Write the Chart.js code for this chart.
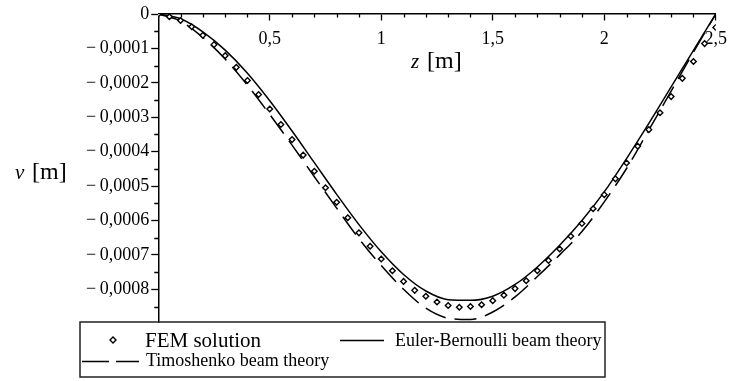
<!DOCTYPE html>
<html>
<head>
<meta charset="utf-8">
<script src="https://cdn.jsdelivr.net/npm/chart.js@4.4.1/dist/chart.umd.min.js"></script>
<style>
  html, body { margin: 0; padding: 0; background: #fff; }
</style>
</head>
<body>
<canvas id="chartBeam" width="735" height="381"></canvas>
<script>
// FEM nodes (every 0.05 m)
const zFem = [0, 0.05, 0.1, 0.15, 0.2, 0.25, 0.3, 0.35, 0.4, 0.45, 0.5, 0.55, 0.6, 0.65, 0.7, 0.75, 0.8, 0.85, 0.9, 0.95,
  1, 1.05, 1.1, 1.15, 1.2, 1.25, 1.3, 1.35, 1.4, 1.45, 1.5, 1.55, 1.6, 1.65, 1.7, 1.75, 1.8, 1.85, 1.9, 1.95,
  2, 2.05, 2.1, 2.15, 2.2, 2.25, 2.3, 2.35, 2.4, 2.45, 2.5];
const vFem = [0, -8.1e-6, -1.9e-5, -3.7e-5, -6.2e-5, -8.9e-5, -1.21e-4, -1.55e-4, -1.93e-4, -2.34e-4,
  -2.76e-4, -3.21e-4, -3.65e-4, -4.10e-4, -4.57e-4, -5.05e-4, -5.47e-4, -5.92e-4, -6.36e-4, -6.75e-4,
  -7.12e-4, -7.46e-4, -7.77e-4, -8.03e-4, -8.20e-4, -8.37e-4, -8.47e-4, -8.52e-4, -8.50e-4, -8.45e-4,
  -8.33e-4, -8.17e-4, -7.98e-4, -7.75e-4, -7.46e-4, -7.16e-4, -6.83e-4, -6.46e-4, -6.09e-4, -5.66e-4,
  -5.25e-4, -4.79e-4, -4.33e-4, -3.84e-4, -3.36e-4, -2.87e-4, -2.40e-4, -1.87e-4, -1.38e-4, -8.6e-5, -3.9e-5];

// analytic curves (every 0.1 m)
const zTheory = [0, 0.1, 0.2, 0.3, 0.4, 0.5, 0.6, 0.7, 0.8, 0.9, 1, 1.1, 1.2, 1.3, 1.4, 1.5, 1.6, 1.7, 1.8, 1.9,
  2, 2.1, 2.2, 2.3, 2.4, 2.5];
const vEuler = [0, -1.4e-5, -5.2e-5, -1.05e-4, -1.72e-4, -2.52e-4, -3.40e-4, -4.32e-4, -5.24e-4, -6.12e-4,
  -6.91e-4, -7.57e-4, -8.05e-4, -8.30e-4, -8.32e-4, -8.20e-4, -7.86e-4, -7.35e-4, -6.72e-4, -6.00e-4,
  -5.17e-4, -4.20e-4, -3.18e-4, -2.12e-4, -1.06e-4, 0];
const vTimo = [0, -2.1e-5, -6.8e-5, -1.31e-4, -2.07e-4, -2.92e-4, -3.81e-4, -4.73e-4, -5.64e-4, -6.53e-4,
  -7.31e-4, -8.00e-4, -8.55e-4, -8.84e-4, -8.88e-4, -8.66e-4, -8.22e-4, -7.63e-4, -7.00e-4, -6.32e-4,
  -5.46e-4, -4.49e-4, -3.37e-4, -2.24e-4, -1.11e-4, 0];

const xTicks = [0.5, 1, 1.5, 2, 2.5];
const yTicks = [0, -0.0001, -0.0002, -0.0003, -0.0004, -0.0005, -0.0006, -0.0007, -0.0008];
const seriesNames = ['FEM solution', 'Euler-Bernoulli beam theory', 'Timoshenko beam theory'];

const serif = '"Liberation Serif", "Times New Roman", serif';
const pts = (xs, ys) => xs.map((x, i) => ({ x: x, y: ys[i] }));
const comma = v => String(v).replace('.', ',');

// minor ticks, axis titles and the boxed legend
const extras = {
  id: 'extras',
  afterDraw(chart) {
    const ctx = chart.ctx;
    const xs = chart.scales.x, ys = chart.scales.y;
    const area = chart.chartArea;
    const x0 = ys.getPixelForValue(0);
    ctx.save();
    ctx.strokeStyle = '#000';
    ctx.lineWidth = 1.3;
    ctx.beginPath();
    for (let i = 1; i < 25; i++) {
      if (i % 5 === 0) continue;
      const px = Math.round(xs.getPixelForValue(i / 10)) + 0.5;
      ctx.moveTo(px, x0);
      ctx.lineTo(px, x0 + 3.5);
    }
    for (let i = 0; i < 9; i++) {
      const py = Math.round(ys.getPixelForValue(-0.00005 - i * 0.0001)) + 0.5;
      ctx.moveTo(area.left, py);
      ctx.lineTo(area.left - 4, py);
    }
    ctx.stroke();

    // axis titles
    ctx.fillStyle = '#000';
    ctx.textBaseline = 'alphabetic';
    ctx.textAlign = 'left';
    ctx.font = 'italic 21px ' + serif;
    ctx.fillText('z', 411, 68);
    ctx.fillText('v', 15, 179);
    ctx.font = '24px ' + serif;
    ctx.fillText('[m]', 427, 68);
    ctx.fillText('[m]', 32, 179);

    // legend
    const top = area.bottom, left = 80, right = 605, bottom = 377;
    ctx.lineWidth = 1.5;
    ctx.strokeStyle = '#222';
    ctx.strokeRect(left, top, right - left, bottom - top);

    const ds = chart.data.datasets;
    ctx.fillStyle = '#fff';
    ctx.strokeStyle = '#000';
    ctx.lineWidth = ds[0].pointBorderWidth;
    ctx.beginPath();
    ctx.moveTo(113, top + 15); ctx.lineTo(116, top + 18); ctx.lineTo(113, top + 21); ctx.lineTo(110, top + 18);
    ctx.closePath(); ctx.fill(); ctx.stroke();

    ctx.lineWidth = ds[1].borderWidth;
    ctx.beginPath();
    ctx.moveTo(340, top + 18.5); ctx.lineTo(384, top + 18.5);
    ctx.stroke();
    ctx.setLineDash([27, 7]);
    ctx.beginPath();
    ctx.moveTo(82, top + 39.5); ctx.lineTo(139, top + 39.5);
    ctx.stroke();
    ctx.setLineDash([]);

    ctx.fillStyle = '#000';
    ctx.font = '21px ' + serif;
    ctx.fillText(seriesNames[0], 145, top + 25);
    ctx.font = '18px ' + serif;
    ctx.fillText(seriesNames[1], 395, top + 24);
    ctx.fillText(seriesNames[2], 146, top + 44);
    ctx.restore();
  }
};

const ctxBeam = document.getElementById('chartBeam').getContext('2d');
const beamChart = new Chart(ctxBeam, {
  type: 'line',
  data: {
    datasets: [{
      label: seriesNames[0],
      data: pts(zFem, vFem),
      showLine: false,
      pointStyle: 'rectRot',
      pointRadius: 2.8,
      pointBorderWidth: 1.4,
      pointBorderColor: '#000',
      pointBackgroundColor: '#fff',
      order: 0
    }, {
      label: seriesNames[1],
      data: pts(zTheory, vEuler),
      borderColor: '#000',
      borderWidth: 1.5,
      pointRadius: 0,
      cubicInterpolationMode: 'monotone',
      fill: false,
      order: 1
    }, {
      label: seriesNames[2],
      data: pts(zTheory, vTimo),
      borderColor: '#000',
      borderWidth: 1.5,
      borderDash: [22, 9],
      pointRadius: 0,
      cubicInterpolationMode: 'monotone',
      fill: false,
      order: 2
    }]
  },
  options: {
    responsive: false,
    animation: false,
    layout: { padding: { left: 84, right: 15, top: 14, bottom: 59 } },
    plugins: { legend: { display: false }, tooltip: { enabled: false } },
    scales: {
      x: {
        type: 'linear',
        min: 0,
        max: 2.5,
        position: { y: 0 },
        afterBuildTicks: s => { s.ticks = xTicks.map(v => ({ value: v })); },
        grid: { drawOnChartArea: false, tickLength: 6, tickWidth: 1.3, tickColor: '#000' },
        border: { color: '#000', width: 1.5 },
        ticks: {
          color: '#000',
          font: { family: serif, size: 18 },
          padding: 8,
          maxRotation: 0,
          callback: v => comma(v)
        }
      },
      y: {
        type: 'linear',
        min: -0.000895,
        max: 0,
        position: 'left',
        afterBuildTicks: s => { s.ticks = yTicks.map(v => ({ value: v })); },
        grid: { drawOnChartArea: false, tickLength: 7, tickWidth: 1.3, tickColor: '#000' },
        border: { color: '#000', width: 1.5 },
        ticks: {
          color: '#000',
          font: { family: serif, size: 18 },
          padding: 2,
          callback: v => v === 0 ? '0' : '\u2212\u2009' + comma(Math.abs(v).toFixed(4))
        }
      }
    }
  },
  plugins: [extras]
});
</script>
</body>
</html>
